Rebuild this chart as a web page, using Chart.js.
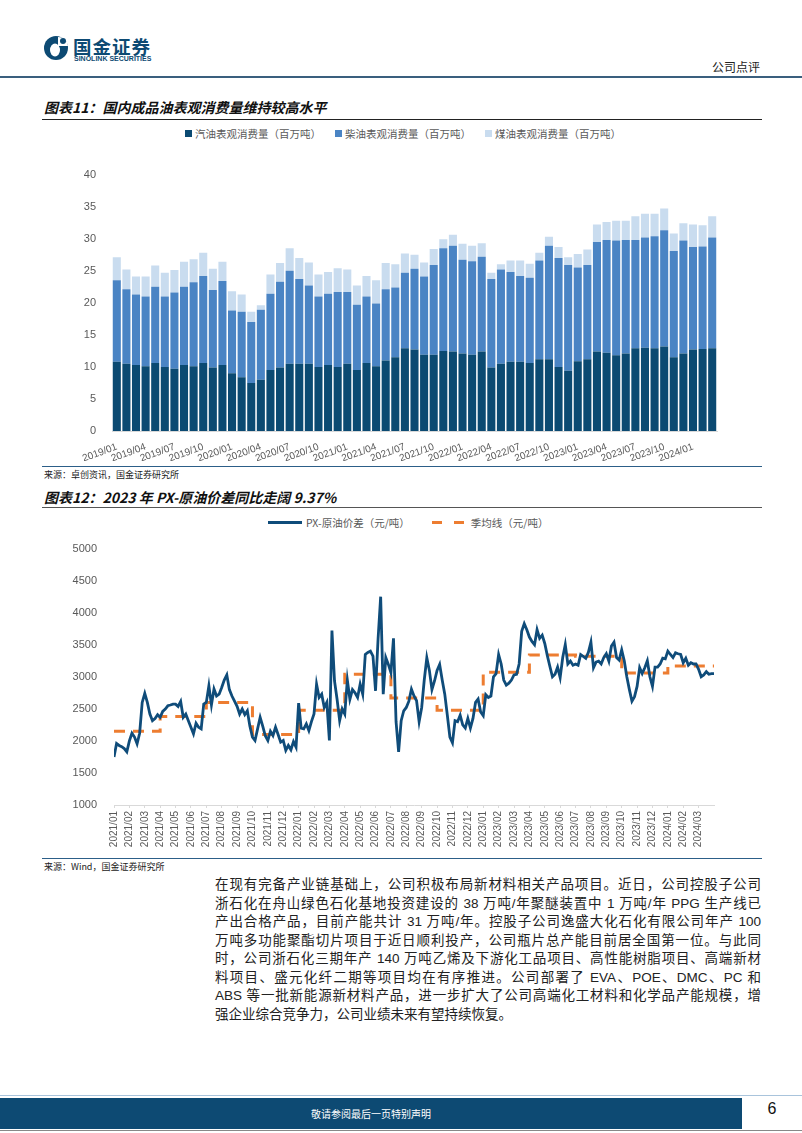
<!DOCTYPE html>
<html lang="zh-CN">
<head>
<meta charset="UTF-8">
<title>公司点评</title>
<script src="https://cdn.jsdelivr.net/npm/chart.js"></script>
<style>
  body { margin: 0; background: #fff; font-family: "Liberation Sans", Arial, "Noto Sans CJK SC", sans-serif; }
  .page { position: relative; width: 802px; height: 1133px; overflow: hidden; background: #fff; }
  .abs { position: absolute; }
  .brand { left: 73px; top: 33px; font: bold 18.5px "Noto Sans CJK SC", sans-serif; color: #0d4a73; letter-spacing: 1px; }
  .brand-en { left: 74px; top: 55px; font: bold 7px "Liberation Sans", Arial, sans-serif; color: #0d4a73; }
  .doc-type { left: 700px; top: 58px; width: 60px; text-align: right; font: 12px "Noto Sans CJK SC", sans-serif; color: #222; }
  .rule { left: 42px; width: 720px; height: 1px; background: #222; }
  .src-rule { left: 42px; width: 720px; height: 1px; background: #2c5e88; }
  .title { left: 44px; font: italic bold 14px "Noto Sans CJK SC", sans-serif; color: #111; }
  .source { left: 44px; font: 9px "Noto Sans CJK SC", sans-serif; color: #222; }
  .legend { font: 10.5px "Noto Sans CJK SC", sans-serif; color: #595959; display: flex; align-items: center; white-space: nowrap; }
  .sq { display: inline-block; width: 7px; height: 7px; margin-right: 3px; }
  .para { left: 215px; top: 876px; width: 546px; font: 13.5px "Liberation Sans", Arial, "Noto Sans CJK SC", sans-serif; color: #222; line-height: 18.5px; }
  .para div { text-align: justify; text-align-last: justify; }
  .para div:last-child { text-align-last: left; }
  .footer { left: 0; top: 1098px; width: 742px; height: 31px; background: #0d4a73; color: #fff; font: 10px "Noto Sans CJK SC", sans-serif; line-height: 31px; text-align: center; }
</style>
</head>
<body>
<div class="page">
  <!-- 页眉 -->
  <svg class="abs" style="left:43px;top:34px" width="28" height="28" viewBox="0 0 28 28">
    <circle cx="13" cy="14" r="12" fill="#0d4a73"/>
    <path d="M15 3 Q24 3 25 12 L15 12 Z" fill="#fff"/>
    <circle cx="20" cy="7" r="3" fill="#0d4a73"/>
    <ellipse cx="12" cy="16" rx="5" ry="6.5" fill="#fff"/>
  </svg>
  <div class="abs brand">国金证券</div>
  <div class="abs brand-en">SINOLINK SECURITIES</div>
  <div class="abs doc-type">公司点评</div>
  <div class="abs" style="left:0;top:76px;width:802px;height:2px;background:#3a5f7e"></div>

  <!-- 图表11 -->
  <div class="abs title" style="top:97px">图表11：国内成品油表观消费量维持较高水平</div>
  <div class="abs rule" style="top:119px"></div>
  <div class="abs legend" style="left:185px;top:126px">
    <span class="sq" style="background:#0b4a72"></span>汽油表观消费量（百万吨）
    <span class="sq" style="background:#4a84c4;margin-left:14px"></span>柴油表观消费量（百万吨）
    <span class="sq" style="background:#c9dcef;margin-left:14px"></span>煤油表观消费量（百万吨）
  </div>
  <div class="abs" style="left:42px;top:160px;width:720px;height:301px"><canvas id="oilChart"></canvas></div>
  <div class="abs src-rule" style="top:466px"></div>
  <div class="abs source" style="top:468px">来源：卓创资讯，国金证券研究所</div>

  <!-- 图表12 -->
  <div class="abs title" style="top:487px">图表12：2023 年 PX-原油价差同比走阔 9.37%</div>
  <div class="abs rule" style="top:507px;background:#555"></div>
  <div class="abs legend" style="left:268px;top:515px">
    <span style="display:inline-block;width:34px;height:3px;background:#0f4c7a;margin-right:4px"></span>PX-原油价差（元/吨）
    <span style="display:inline-block;width:34px;height:3px;margin:0 5px 0 22px;background:linear-gradient(90deg,#ed7d31 0 10px,transparent 10px 22px,#ed7d31 22px 32px,transparent 32px)"></span>季均线（元/吨）
  </div>
  <div class="abs" style="left:42px;top:533px;width:720px;height:314px"><canvas id="pxChart"></canvas></div>
  <div class="abs src-rule" style="top:858px"></div>
  <div class="abs source" style="top:860px">来源：Wind，国金证券研究所</div>

  <!-- 正文 -->
  <div class="abs para">
    <div>在现有完备产业链基础上，公司积极布局新材料相关产品项目。近日，公司控股子公司</div>
    <div>浙石化在舟山绿色石化基地投资建设的 38 万吨/年聚醚装置中 1 万吨/年 PPG 生产线已</div>
    <div>产出合格产品，目前产能共计 31 万吨/年。控股子公司逸盛大化石化有限公司年产 100</div>
    <div>万吨多功能聚酯切片项目于近日顺利投产，公司瓶片总产能目前居全国第一位。与此同</div>
    <div>时，公司浙石化三期年产 140 万吨乙烯及下游化工品项目、高性能树脂项目、高端新材</div>
    <div>料项目、盛元化纤二期等项目均在有序推进。公司部署了 EVA、POE、DMC、PC 和</div>
    <div>ABS 等一批新能源新材料产品，进一步扩大了公司高端化工材料和化学品产能规模，增</div>
    <div>强企业综合竞争力，公司业绩未来有望持续恢复。</div>
  </div>

  <!-- 页脚 -->
  <div class="abs" style="left:0;top:1095px;width:802px;height:1px;background:#a9c4dc"></div>
  <div class="abs footer">敬请参阅最后一页特别声明</div>
  <div class="abs" style="left:752px;top:1100px;width:40px;text-align:center;font:16px 'Liberation Sans',Arial,sans-serif;color:#111">6</div>
  <div class="abs" style="left:0;top:1130px;width:802px;height:1px;background:#888"></div>
</div>

<script>
// ---- 图表11 数据：2019/01 - 2024/03 月度（百万吨）----
function monthRange(y0, m0, count) {
    const out = [];
    for (let i = 0; i < count; i++) {
        const y = y0 + Math.floor((m0 - 1 + i) / 12);
        const m = (m0 - 1 + i) % 12 + 1;
        out.push(y + '/' + String(m).padStart(2, '0'));
    }
    return out;
}
const oilMonths = monthRange(2019, 1, 63);

const gasoline = [10.8, 10.5, 10.3, 10.1, 10.6, 10.0, 9.7, 10.3, 10.1, 10.6, 9.9, 10.3,
    9.0, 8.4, 7.5, 8.0, 9.5, 9.9, 10.5, 10.5, 10.5, 10.0, 10.3, 10.0,
    10.5, 9.5, 10.6, 10.1, 11.0, 11.5, 12.9, 12.7, 11.9, 11.9, 12.5, 12.4,
    12.1, 11.9, 12.4, 9.9, 10.5, 10.8, 10.8, 10.6, 11.2, 11.2, 10.0, 9.4,
    10.9, 11.2, 12.4, 12.2, 11.8, 12.1, 12.9, 13.0, 12.9, 13.2, 11.5, 12.1,
    12.7, 12.8, 12.9];
const diesel = [12.7, 11.6, 11.0, 10.9, 11.9, 11.0, 11.9, 12.2, 13.1, 13.6, 12.1, 13.1,
    9.8, 10.2, 9.5, 10.9, 11.9, 13.4, 14.5, 13.2, 12.2, 11.0, 11.1, 11.7,
    11.2, 10.2, 10.4, 9.8, 11.1, 10.9, 11.8, 12.6, 12.2, 14.0, 16.0, 16.5,
    14.6, 14.6, 14.8, 13.8, 14.7, 14.0, 13.4, 13.3, 15.4, 17.7, 17.0, 16.5,
    14.6, 14.7, 17.1, 17.6, 17.9, 17.7, 16.9, 17.2, 17.5, 18.1, 16.6, 17.6,
    16.0, 16.0, 17.3];
const kerosene = [3.6, 3.1, 2.8, 3.1, 3.3, 3.7, 3.5, 3.9, 3.6, 3.6, 3.3, 3.0,
    3.0, 2.7, 1.6, 0.7, 3.0, 2.9, 3.5, 3.3, 3.6, 3.4, 3.4, 3.7,
    3.5, 3.0, 3.2, 3.6, 4.1, 3.6, 3.0, 2.2, 2.2, 2.5, 1.4, 1.7,
    2.5, 2.4, 2.1, 1.0, 0.8, 1.8, 2.4, 2.2, 1.2, 1.4, 1.7, 1.2,
    2.1, 2.4, 2.7, 2.8, 3.1, 3.0, 3.7, 3.7, 3.5, 3.4, 2.7, 2.7,
    3.5, 3.3, 3.3];

// ---- 图表12 数据：2021/01 - 2024/03，每月 6 个读数（元/吨）----
const pxMonths = monthRange(2021, 1, 39);
const perMonth = 6;
const pxSpread = [
    1748, 1960, 1929, 1910, 1880, 1830,   // 2021/01
    2000, 2120, 2060, 1955, 2120, 2600,
    2740, 2600, 2420, 2316, 2350, 2409,
    2368, 2461, 2497, 2548, 2560, 2574,
    2574, 2538, 2615, 2368, 2419, 2316,
    2213, 2110, 2275, 2213, 2187, 2574,
    2600, 2858, 2560, 2810, 2700, 2729,   // 2021/07
    2832, 2950, 3030, 2800, 2700, 2620,
    2540, 2419, 2497, 2409, 2471, 2230,
    2060, 2006, 2187, 2368, 2230, 2080,
    2006, 2151, 2084, 2213, 2100, 1980,
    2006, 1852, 1929, 1862, 1990, 1903,
    2590, 2200, 2187, 2264, 2161, 2300,   // 2022/01
    2419, 2884, 2677, 2729, 2522, 2600,
    2006, 3720, 2935, 2650, 2316, 2500,
    2419, 2950, 2650, 2800, 2750, 2677,
    2884, 2729, 3350, 3380, 3400, 3322,
    2780, 3600, 4250, 2729, 3300, 3193,
    3064, 3600, 2300, 1830, 2316, 2470,   // 2022/07
    2522, 2620, 2806, 2700, 2626, 2300,
    2522, 2950, 3297, 3100, 2800, 2935,
    3100, 3193, 2950, 2729, 2400, 2058,
    1970, 2316, 2300, 2400, 2250, 2200,
    2350, 2200, 2350, 2600, 2652, 2450,
    2393, 2720, 2677, 2700, 3000, 3050,   // 2023/01
    3348, 3200, 2950, 2870, 2900, 2950,
    3030, 3039, 3200, 3710, 3830, 3735,
    3620, 3550, 3500, 3735, 3600, 3650,
    3520, 3330, 3160, 3000, 3039, 3150,
    2987, 3300, 3503, 3200, 3245, 3180,
    3200, 3180, 3348, 3320, 3290, 3380,   // 2023/07
    3540, 3142, 3230, 3245, 3200, 3300,
    3360, 3245, 3480, 3540, 3300, 3260,
    3420, 3250, 3000, 2800, 2620, 2690,
    2850, 3142, 3050, 3142, 3250, 3000,
    2850, 3150, 3150, 3200, 3290, 3280,
    3400, 3348, 3300, 3374, 3360, 3348,   // 2024/01
    3220, 3290, 3180, 3220, 3200, 3200,
    3116, 3000, 3030, 3080, 3039, 3050, 3049
];
// 季均线：2021Q1 - 2024Q1
const quarterAvg = [2150, 2380, 2600, 2100, 2480, 3040, 2670, 2480, 3070, 3340, 3320, 3060, 3170];

const darkBlue = '#0b4a72', midBlue = '#4a84c4', lightBlue = '#c9dcef';
const tickColor = '#595959';

Chart.defaults.font.family = '"Liberation Sans", Arial, "Noto Sans CJK SC", sans-serif';
Chart.defaults.color = tickColor;

new Chart(document.getElementById('oilChart'), {
    type: 'bar',
    data: {
        labels: oilMonths,
        datasets: [
            { label: '汽油表观消费量（百万吨）', data: gasoline, backgroundColor: darkBlue },
            { label: '柴油表观消费量（百万吨）', data: diesel, backgroundColor: midBlue },
            { label: '煤油表观消费量（百万吨）', data: kerosene, backgroundColor: lightBlue }
        ]
    },
    options: {
        responsive: true,
        maintainAspectRatio: false,
        animation: false,
        layout: { padding: { top: 10, right: 45, bottom: 0, left: 0 } },
        datasets: { bar: { barPercentage: 0.84, categoryPercentage: 1.0 } },
        plugins: { legend: { display: false }, tooltip: { enabled: false } },
        scales: {
            x: {
                stacked: true,
                grid: { display: false },
                border: { display: true, color: '#d9d9d9' },
                ticks: {
                    autoSkip: false, minRotation: 20, maxRotation: 20, padding: 2,
                    font: { size: 10 },
                    callback: (v, i) => (i % 3 === 0 ? oilMonths[i] : '')
                },
                afterFit: s => { s.height = 30; }
            },
            y: {
                stacked: true, min: 0, max: 40,
                grid: { display: false },
                border: { display: false },
                ticks: { stepSize: 5, padding: 8, font: { size: 11 } },
                afterFit: s => { s.width = 70; }
            }
        }
    }
});

new Chart(document.getElementById('pxChart'), {
    type: 'line',
    data: {
        datasets: [
            {
                label: 'PX-原油价差（元/吨）',
                data: pxSpread.map((v, i) => ({ x: i / perMonth, y: v })),
                borderColor: '#0f4c7a', borderWidth: 2.8, pointRadius: 0, tension: 0
            },
            {
                label: '季均线（元/吨）',
                data: quarterAvg.map((v, q) => ({ x: q * 3, y: v }))
                    .concat([{ x: pxMonths.length, y: quarterAvg[quarterAvg.length - 1] }]),
                borderColor: '#ed7d31', borderWidth: 3, borderDash: [11, 8],
                pointRadius: 0, stepped: 'before'
            }
        ]
    },
    options: {
        responsive: true,
        maintainAspectRatio: false,
        animation: false,
        layout: { padding: { top: 10, right: 48, bottom: 0, left: 0 } },
        plugins: { legend: { display: false }, tooltip: { enabled: false } },
        scales: {
            x: {
                type: 'linear', min: 0, max: pxMonths.length,
                grid: { display: true, drawOnChartArea: false, drawTicks: true, tickLength: 3, color: '#d9d9d9' },
                border: { display: true, color: '#d9d9d9' },
                ticks: {
                    stepSize: 1, autoSkip: false, minRotation: 90, maxRotation: 90, padding: 3,
                    font: { size: 10 },
                    callback: v => pxMonths[v] || ''
                },
                afterBuildTicks: s => { s.ticks = s.ticks.filter(t => t.value < pxMonths.length); },
                afterFit: s => { s.height = 42; }
            },
            y: {
                min: 1000, max: 5000,
                grid: { display: false },
                border: { display: false },
                ticks: { stepSize: 500, padding: 9, font: { size: 11 }, callback: v => String(v) },
                afterFit: s => { s.width = 72; }
            }
        }
    }
});
</script>
</body>
</html>
